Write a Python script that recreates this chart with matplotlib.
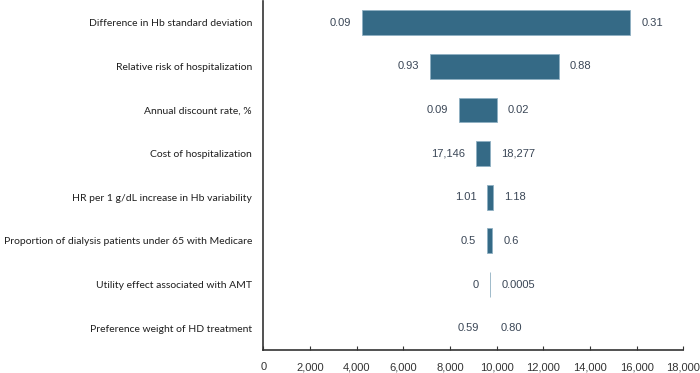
import matplotlib
matplotlib.use("Agg")
import matplotlib.pyplot as plt
from matplotlib.ticker import FuncFormatter

categories = [
    "Difference in Hb standard deviation",
    "Relative risk of hospitalization",
    "Annual discount rate, %",
    "Cost of hospitalization",
    "HR per 1 g/dL increase in Hb variability",
    "Proportion of dialysis patients under 65 with Medicare",
    "Utility effect associated with AMT",
    "Preference weight of HD treatment",
]
bar_low = [4220, 7150, 8370, 9110, 9600, 9600, 9715, 9720]
bar_high = [15730, 12670, 10000, 9725, 9840, 9825, 9740, 9720]
low_labels = ["0.09", "0.93", "0.09", "17,146", "1.01", "0.5", "0", "0.59"]
high_labels = ["0.31", "0.88", "0.02", "18,277", "1.18", "0.6", "0.0005", "0.80"]
x_ticks = list(range(0, 18001, 2000))

bar_color = "#356A86"
text_color = "#3A4656"

fig = plt.figure(figsize=(7, 3.73), dpi=100)
ax = fig.add_axes([0.376, 0.0617, 0.6, 0.936])

ypos = list(range(len(categories)))
widths = [h - l for l, h in zip(bar_low, bar_high)]
lws = [0.6 if w > 0 else 0 for w in widths]
ax.barh(ypos, widths, left=bar_low, height=0.57, color=bar_color,
        edgecolor="#8FB0C2", linewidth=lws)

off = 470  # data units gap
for y, l, h, ll, hl in zip(ypos, bar_low, bar_high, low_labels, high_labels):
    ax.text(l - off, y, ll, ha="right", va="center", fontsize=8,
            color=text_color, family="Liberation Sans")
    ax.text(h + off, y, hl, ha="left", va="center", fontsize=8,
            color=text_color, family="Liberation Sans")

ax.set_xlim(0, 18000)
ax.set_ylim(len(categories) - 0.5, -0.5)
ax.set_yticks(ypos)
ax.set_yticklabels(categories, fontsize=7.5, color="#1F1F1F", family="Lato")
ax.tick_params(axis="y", length=0, pad=8)
ax.set_xticks(x_ticks)
ax.xaxis.set_major_formatter(FuncFormatter(lambda v, p: f"{int(v):,}"))
ax.tick_params(axis="x", direction="in", length=3, width=0.8, labelsize=8,
               pad=9, colors="#333333")
for lab in ax.get_xticklabels():
    lab.set_family("Liberation Sans")
for s in ["top", "right"]:
    ax.spines[s].set_visible(False)
for s in ["left", "bottom"]:
    ax.spines[s].set_color("#333333")
    ax.spines[s].set_linewidth(1.2)

fig.savefig("out.png", dpi=100)
